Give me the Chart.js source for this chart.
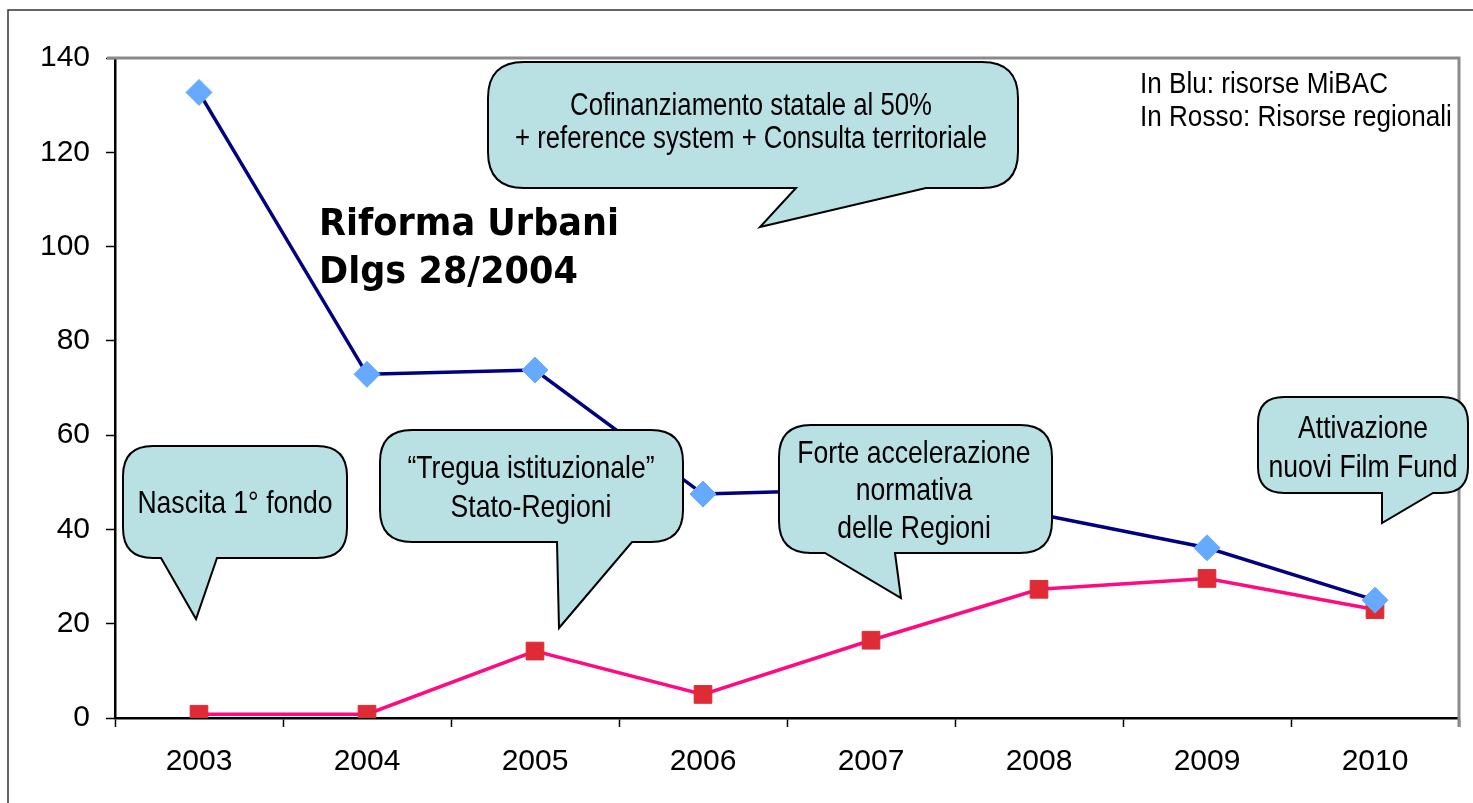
<!DOCTYPE html>
<html>
<head>
<meta charset="utf-8">
<script src="https://cdn.jsdelivr.net/npm/chart.js@4.4.1/dist/chart.umd.min.js"></script>
<style>
  html, body { margin: 0; padding: 0; background: #fff; }
  #wrap { width: 1473px; height: 803px; }
</style>
</head>
<body>
<div id="wrap"><canvas id="c" width="1473" height="803"></canvas></div>
<script>
// ---- data ----
const years = ['2003', '2004', '2005', '2006', '2007', '2008', '2009', '2010'];
const mibac = [132.7, 72.9, 73.8, 47.5, 48.5, 43.2, 36.1, 25.0];
const regioni = [0.8, 0.8, 14.2, 5.0, 16.5, 27.3, 29.6, 23.0];
const yTicks = [0, 20, 40, 60, 80, 100, 120, 140];

const callouts = [
  { lines: ['Nascita 1° fondo'], box: [123, 446, 224, 112, 30], tail: [161, 217, 196, 619], text: [235, [513]], size: 32 },
  { lines: ['\u201cTregua istituzionale\u201d', 'Stato-Regioni'], box: [380, 430, 303, 112, 32], tail: [557, 632, 559, 628], text: [531, [478, 517]], size: 32 },
  { lines: ['Forte accelerazione', 'normativa', 'delle Regioni'], box: [779, 425, 273, 128, 32], tail: [825, 895, 901, 598], text: [914, [463, 500, 538]], size: 32 },
  { lines: ['Attivazione', 'nuovi Film Fund'], box: [1258, 397, 210, 96, 26], tail: [1382, 1433, 1382, 523], text: [1363, [438, 477]], size: 32 },
  { lines: ['Cofinanziamento statale al 50%', '+ reference system + Consulta territoriale'], box: [488, 62, 530, 126, 36], tail: [796, 926, 760, 227], text: [751, [115, 148]], size: 31 }
];

function narrowText(ctx, str, x, y, size, sx, align) {
  ctx.save();
  ctx.font = size + 'px "Liberation Sans", Arial, sans-serif';
  ctx.textBaseline = 'alphabetic';
  ctx.fillStyle = '#000';
  const w = ctx.measureText(str).width * sx;
  let left = x;
  if (align === 'center') left = x - w / 2;
  ctx.translate(left, y);
  ctx.scale(sx, 1);
  ctx.textAlign = 'left';
  ctx.fillText(str, 0, 0);
  ctx.restore();
}

function calloutPath(ctx, b, t) {
  const [x, y, w, h, r] = b;
  const [b1, b2, tx, ty] = t;
  const bot = y + h;
  ctx.beginPath();
  ctx.moveTo(x + r, y);
  ctx.lineTo(x + w - r, y);
  ctx.quadraticCurveTo(x + w, y, x + w, y + r);
  ctx.lineTo(x + w, bot - r);
  ctx.quadraticCurveTo(x + w, bot, x + w - r, bot);
  ctx.lineTo(b2, bot);
  ctx.lineTo(tx, ty);
  ctx.lineTo(b1, bot);
  ctx.lineTo(x + r, bot);
  ctx.quadraticCurveTo(x, bot, x, bot - r);
  ctx.lineTo(x, y + r);
  ctx.quadraticCurveTo(x, y, x + r, y);
  ctx.closePath();
}

const decor = {
  id: 'decor',
  beforeDraw(chart) {
    const ctx = chart.ctx;
    ctx.save();
    ctx.fillStyle = '#fff';
    ctx.fillRect(0, 0, chart.width, chart.height);
    ctx.strokeStyle = '#333';
    ctx.lineWidth = 1.5;
    ctx.beginPath();
    ctx.moveTo(8, 803);
    ctx.lineTo(8, 10);
    ctx.lineTo(1473, 10);
    ctx.stroke();
    ctx.restore();
  },
  beforeDatasetsDraw(chart) {
    const ctx = chart.ctx;
    const a = chart.chartArea;
    ctx.save();
    ctx.strokeStyle = '#8a8a8a';
    ctx.lineWidth = 3;
    ctx.beginPath();
    ctx.moveTo(a.left - 8, a.top);
    ctx.lineTo(a.right, a.top);
    ctx.lineTo(a.right, a.bottom + 9);
    ctx.stroke();
    ctx.restore();
  },
  afterDatasetsDraw(chart) {
    const ctx = chart.ctx;
    callouts.forEach(c => {
      ctx.save();
      calloutPath(ctx, c.box, c.tail);
      ctx.fillStyle = '#b9e0e3';
      ctx.fill();
      ctx.strokeStyle = '#000';
      ctx.lineWidth = 2;
      ctx.lineJoin = 'miter';
      ctx.stroke();
      ctx.restore();
      c.lines.forEach((ln, i) => narrowText(ctx, ln, c.text[0], c.text[1][i], c.size, 0.83, 'center'));
    });
    // legend note
    narrowText(ctx, 'In Blu: risorse MiBAC', 1140, 93, 30, 0.87, 'left');
    narrowText(ctx, 'In Rosso: Risorse regionali', 1140, 126, 30, 0.87, 'left');
    // bold title
    ctx.save();
    ctx.font = 'bold 38px "DejaVu Sans", sans-serif';
    ctx.fillStyle = '#000';
    ctx.textBaseline = 'alphabetic';
    const w1 = ctx.measureText('Riforma Urbani').width;
    const sx = 300 / w1;
    ctx.translate(319, 235);
    ctx.scale(sx, 1);
    ctx.fillText('Riforma Urbani', 0, 0);
    ctx.fillText('Dlgs 28/2004', 0, 48);
    ctx.restore();
  }
};

new Chart(document.getElementById('c'), {
  type: 'line',
  data: {
    labels: years,
    datasets: [
      {
        label: 'risorse MiBAC',
        data: mibac,
        borderColor: '#000080',
        borderWidth: 3.5,
        pointStyle: 'rectRot',
        pointRadius: 13,
        pointBackgroundColor: '#66aaff',
        pointBorderColor: '#66aaff',
        pointBorderWidth: 1,
        tension: 0
      },
      {
        label: 'Risorse regionali',
        data: regioni,
        borderColor: '#ff0a80',
        borderWidth: 3.5,
        pointStyle: 'rect',
        pointRadius: 12.5,
        pointBackgroundColor: '#de2b35',
        pointBorderColor: '#de2b35',
        pointBorderWidth: 1,
        tension: 0
      }
    ]
  },
  options: {
    responsive: false,
    devicePixelRatio: 1,
    animation: false,
    layout: { padding: { left: 0, top: 58, right: 12, bottom: 0 } },
    plugins: { legend: { display: false }, tooltip: { enabled: false } },
    scales: {
      x: {
        type: 'category',
        offset: true,
        afterFit(s) { s.height = 85; },
        grid: { offset: true, drawOnChartArea: false, drawTicks: true, tickLength: 9, tickColor: '#000', tickWidth: 1.5 },
        border: { color: '#000', width: 2.5 },
        ticks: { color: '#000', font: { family: '"Liberation Sans", Arial, sans-serif', size: 30 }, padding: 17, maxRotation: 0, autoSkip: false }
      },
      y: {
        min: 0,
        max: 140,
        afterFit(s) { s.width = 115; },
        afterBuildTicks(s) { s.ticks = yTicks.map(v => ({ value: v })); },
        grid: { drawOnChartArea: false, drawTicks: true, tickLength: 9, tickColor: '#000', tickWidth: 1.5 },
        border: { color: '#000', width: 2.5 },
        ticks: { color: '#000', font: { family: '"Liberation Sans", Arial, sans-serif', size: 30 }, padding: 16 }
      }
    }
  },
  plugins: [decor]
});
</script>
</body>
</html>
